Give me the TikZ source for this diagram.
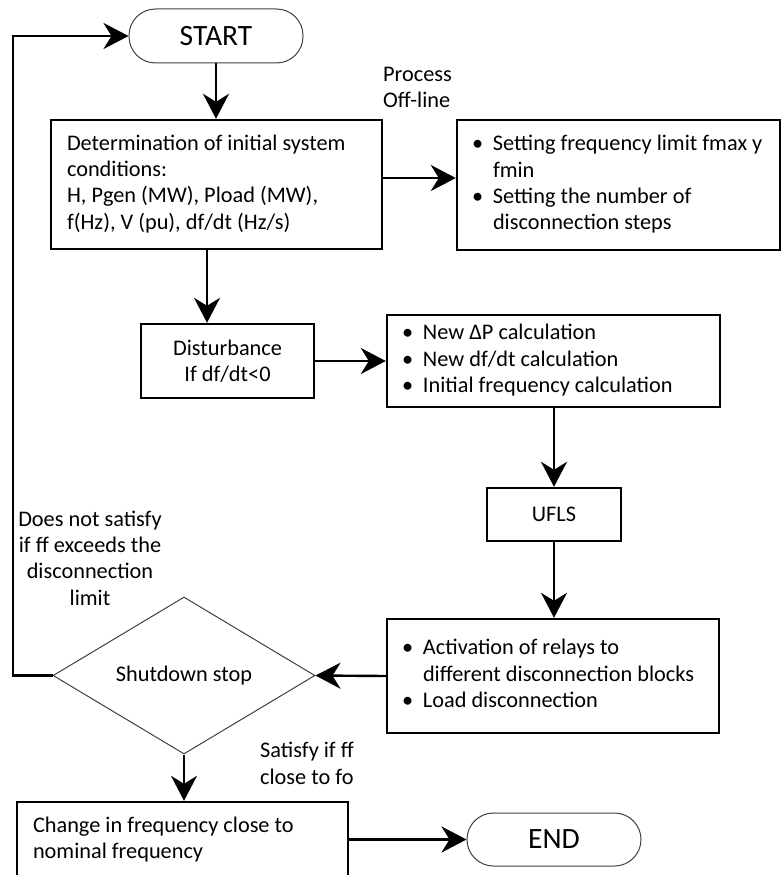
\documentclass[tikz,border=0pt]{standalone}
\usepackage{fontspec}
\setmainfont{Carlito}
\usetikzlibrary{shapes.geometric,arrows.meta}
\newcommand{\bodyfont}{\fontsize{22.3}{26.3}\selectfont}
\newcommand{\bl}{\makebox[21pt][l]{\textbullet}}
\newcommand{\ind}{\hspace*{21pt}}
\tikzset{
  box/.style={draw=black, line width=2.4pt, rectangle, inner sep=0pt, font=\bodyfont},
  term/.style={draw=black!75, line width=1pt, rectangle, rounded corners=26.5pt, inner sep=0pt, font=\fontsize{29.5}{32}\selectfont},
  decis/.style={draw=black!75, line width=1pt, diamond, inner sep=0pt, font=\bodyfont},
  arr/.style={line width=2.4pt, -{Stealth[length=25pt 0 0,width=26pt 0 0,inset=8pt 0 0]}},
  lbl/.style={inner sep=0pt, font=\bodyfont}
}
\begin{document}
\begin{tikzpicture}[x=1pt,y=-1pt]
\useasboundingbox (0,0) rectangle (781,875);

% terminals
\node[term, minimum width=174pt, minimum height=54pt] (start) at (216,36) {START};
\node[term, minimum width=174pt, minimum height=53pt] (end) at (554,839.5) {END};

% boxes
\node[box, minimum width=331pt, minimum height=129pt] (box1) at (216.5,184.5)
  {\makebox[299pt][l]{\begin{tabular}{@{}l@{}}Determination of initial system\\ conditions:\\ H, Pgen (MW), Pload (MW),\\ f(Hz), V (pu), df/dt (Hz/s)\end{tabular}}};

\node[box, minimum width=323pt, minimum height=130pt] (box2) at (618.5,185)
  {\makebox[293pt][l]{\begin{tabular}{@{}l@{}}\bl Setting frequency limit fmax y\\ \ind fmin\\ \bl Setting the number of\\ \ind disconnection steps\end{tabular}}};

\node[box, minimum width=173pt, minimum height=74pt, align=center] (dist) at (227.5,361)
  {Disturbance\\ If df/dt<0};

\node[box, minimum width=333pt, minimum height=92pt] (box3) at (553.5,361)
  {\makebox[303pt][l]{\begin{tabular}{@{}l@{}}\bl New ΔP calculation\\ \bl New df/dt calculation\\ \bl Initial frequency calculation\end{tabular}}};

\node[box, minimum width=134pt, minimum height=53pt] (ufls) at (554,514.5) {UFLS};

\node[box, minimum width=332pt, minimum height=114pt] (box4) at (553,676)
  {\makebox[302pt][l]{\begin{tabular}{@{}l@{}}\bl Activation of relays to\\ \ind different disconnection blocks\\ \bl Load disconnection\end{tabular}}};

\node[decis, minimum width=262pt, minimum height=157pt] (dia) at (184,675.5) {Shutdown stop};

\node[box, minimum width=331pt, minimum height=76pt] (box5) at (182.5,840)
  {\makebox[299pt][l]{\begin{tabular}{@{}l@{}}Change in frequency close to\\ nominal frequency\end{tabular}}};

% labels
\node[lbl, anchor=west, align=left] (lproc) at (383,87.5) {Process\\ Off-line};
\node[lbl, align=center] (lno) at (90,558) {Does not satisfy\\ if ff exceeds the\\ disconnection\\ limit};
\node[lbl, anchor=west, align=left] (lyes) at (260,763.5) {Satisfy if ff\\ close to fo};

% helper coordinates
\coordinate (xa) at (207,0);
\coordinate (ya) at (0,178);
\coordinate (fb) at (13,400);

% connectors
\draw[arr] (start.south) -- (start.south |- box1.north);
\draw[arr] (box1.east |- ya) -- (box2.west |- ya);
\draw[arr] (box1.south -| xa) -- (dist.north -| xa);
\draw[arr] (dist.east) -- (dist.east -| box3.west);
\draw[arr] (ufls.north |- box3.south) -- (ufls.north);
\draw[arr] (ufls.south) -- (ufls.south |- box4.north);
\draw[arr] (box4.west) -- (dia.east);
\draw[arr] (dia.south) -- (dia.south |- box5.north);
\draw[arr] (box5.east |- end.west) -- (end.west);
\draw[arr] (dia.west) -| (fb) |- (start.west);
\end{tikzpicture}
\end{document}
